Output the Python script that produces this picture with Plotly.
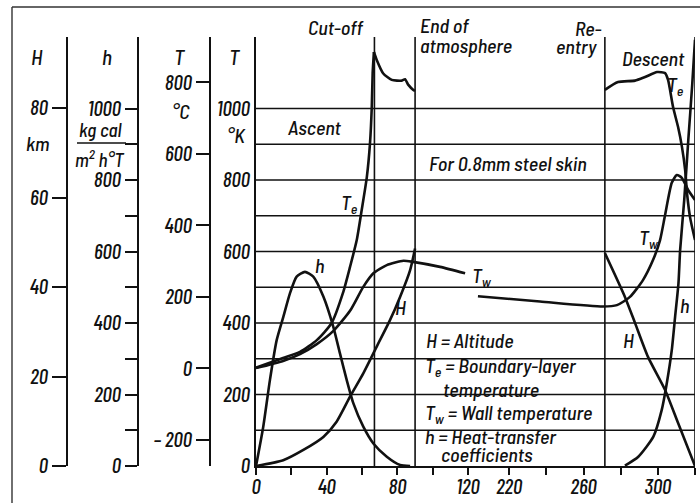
import plotly.graph_objects as go

# ---------------- data ----------------
cutoff_t = 67
end_atmosphere_t = 90
reentry_t = 271.5
descent_end_t = 320

te_asc_t = [0, 15.3, 24.9, 34.4, 42.8, 49.2, 53.2, 57.0, 59.8, 62.7, 64.5, 65.5, 66.0, 66.7]
te_asc_k = [275, 302, 319, 352, 400, 484, 557, 632, 716, 808, 903, 1004, 1099, 1158]
te_post_t = [66.7, 68.3, 72.0, 76.8, 82.5, 84.3, 86.2, 89.0, 90]
te_post_k = [1158, 1136, 1098, 1080, 1078, 1082, 1066, 1052, 1049]
te_desc_t = [271.5, 278.6, 287.7, 293.1, 299.6, 303.9, 305.5, 308.2, 310.9, 313.0, 314.7, 315.8, 317.4, 320]
te_desc_k = [1052, 1074, 1078, 1088, 1102, 1099, 1080, 1004, 948, 892, 828, 758, 694, 632]

tw_asc_t = [0, 15.3, 24.9, 34.4, 43.8, 53.2, 60.7, 66.4, 74.0, 83.4, 88.8, 104.1, 118.3]
tw_asc_k = [274, 294, 313, 341, 378, 434, 501, 539, 562, 574, 571, 557, 539]
tw_desc_t = [203.2, 236.6, 270.5, 278.0, 285.0, 292.0, 297.4, 301.2, 303.9, 307.5, 310.2, 312.9, 316.3, 320]
tw_desc_k = [475, 460, 446, 450, 473, 520, 576, 632, 702, 792, 814, 806, 772, 744]

h_asc_t = [0, 4.1, 7.9, 11.7, 15.5, 19.2, 23.0, 27.7, 32.4, 38.1, 43.7, 47.5, 51.3, 55.1, 60.7, 66.4, 74.0, 81.5, 87.2]
h_asc_v = [0, 110, 241, 352, 418, 483, 530, 543, 530, 474, 390, 315, 241, 175, 110, 63, 26, 3, 0]
h_desc_t = [282.3, 289.5, 297.6, 302.1, 304.8, 307.5, 309.3, 311.1, 312.0, 314.2, 316.4, 318.5, 320]
h_desc_v = [1, 26, 82, 157, 231, 324, 418, 511, 604, 744, 912, 1066, 1192]

alt_asc_t = [0, 15.4, 26.8, 38.1, 45.6, 53.2, 60.7, 68.3, 75.8, 81.5, 87.2, 90.0]
alt_asc_km = [0, 1.3, 3.6, 6.5, 9.9, 15.5, 20.7, 26.7, 32.6, 37.8, 43.8, 48.6]
alt_desc_t = [271.5, 282.3, 287.7, 294.7, 303.9, 310.9, 320]
alt_desc_km = [47.6, 37.8, 32.0, 24.4, 17.0, 9.6, 0]

x1_ticks = [0, 20, 40, 60, 80, 100, 120]
x1_text = ["0", "", "40", "", "80", "", "120"]
x2_ticks = [220, 240, 260, 280, 300, 320]
x2_text = ["220", "", "260", "", "300", ""]
k_ticks = [0, 200, 400, 600, 800, 1000]
grid_k = [100, 200, 300, 400, 500, 600, 700, 800, 900, 1000]
h_ticks = [0, 100, 200, 300, 400, 500, 600, 700, 800, 900, 1000]
h_text = ["0", "", "200", "", "400", "", "600", "", "800", "", "1000"]
c_ticks = [-200, 0, 200, 400, 600, 800]
c_text = ["\u2013 200", "0", "200", "400", "600", "800"]
km_ticks = [0, 20, 40, 60, 80]

W, H = 700, 503
L, R, T, B = 67, 695, 37, 466
PW, PH = R - L, B - T


def px(x):
    return (x - L) / PW


def py(y):
    return (B - y) / PH


X0 = px(256)
XB = px(472)

NUMFONT = "Barlow Condensed, Roboto Condensed, Archivo Narrow, DejaVu Sans Condensed, sans-serif"
TXTFONT = "Barlow Semi Condensed, Barlow Condensed, Roboto Condensed, DejaVu Sans Condensed, sans-serif"
INK = "#111111"
tickfont = dict(family=NUMFONT, size=21, color=INK, style="italic", weight=500)

fig = go.Figure()
line = dict(color=INK, width=2.6, shape="spline", smoothing=0.6)


def add(xs, ys, xa, ya):
    fig.add_trace(go.Scatter(x=xs, y=ys, xaxis=xa, yaxis=ya, mode="lines",
                             line=line, showlegend=False, hoverinfo="skip"))


add(te_asc_t, te_asc_k, "x", "y")
add(te_post_t, te_post_k, "x", "y")
add(te_desc_t, te_desc_k, "x2", "y")
add(tw_asc_t, tw_asc_k, "x", "y")
add(tw_desc_t, tw_desc_k, "x2", "y")
add(h_asc_t, h_asc_v, "x", "y2")
add(h_desc_t, h_desc_v, "x2", "y2")
add(alt_asc_t, alt_asc_km, "x", "y4")
add(alt_desc_t, alt_desc_km, "x2", "y4")
fig.add_trace(go.Scatter(x=[], y=[], xaxis="x", yaxis="y3", showlegend=False))

yax_common = dict(showgrid=False, zeroline=False, showline=True, linecolor=INK,
                  linewidth=2, tickfont=tickfont, tickcolor=INK, tickwidth=1.6,
                  automargin=False, tickmode="array")
xax_common = dict(anchor="y", showgrid=False, zeroline=False, showline=True,
                  linecolor=INK, linewidth=2, ticks="outside", ticklen=7,
                  tickwidth=1.6, tickcolor=INK, tickmode="array", tickfont=tickfont,
                  automargin=False, ticklabelstandoff=-6)

fig.update_layout(
    width=W, height=H, autosize=False,
    margin=dict(l=L, r=W - R, t=T, b=H - B),
    paper_bgcolor="white", plot_bgcolor="white",
    xaxis=dict(domain=[X0, XB], range=[0, 122.2], tickvals=x1_ticks,
               ticktext=x1_text, **xax_common),
    xaxis2=dict(domain=[XB, 1], range=[200, 320], tickvals=x2_ticks,
                ticktext=x2_text, **xax_common),
    yaxis=dict(domain=[0, 1], range=[0, 1200], anchor="x", ticks="",
               tickvals=k_ticks, **yax_common),
    yaxis2=dict(range=[0, 1200], overlaying="y", anchor="free", position=px(138),
                side="left", ticks="outside", ticklen=12, tickvals=h_ticks,
                ticktext=h_text, **yax_common),
    yaxis3=dict(range=[-273, 927], overlaying="y", anchor="free", position=px(210),
                side="left", ticks="outside", ticklen=13, tickvals=c_ticks,
                ticktext=c_text, **yax_common),
    yaxis4=dict(range=[0, 95.9], overlaying="y", anchor="free", position=0,
                side="left", ticks="outside", ticklen=14, tickvals=km_ticks,
                **yax_common),
)

shapes = []
for g in grid_k:
    shapes.append(dict(type="line", xref="paper", x0=X0, x1=1, yref="y", y0=g, y1=g,
                       line=dict(color=INK, width=1.4), layer="below"))
for t in [cutoff_t, end_atmosphere_t]:
    shapes.append(dict(type="line", xref="x", x0=t, x1=t, yref="paper", y0=0, y1=1,
                       line=dict(color=INK, width=1.6)))
for t in [reentry_t, descent_end_t]:
    shapes.append(dict(type="line", xref="x2", x0=t, x1=t, yref="paper", y0=0, y1=1,
                       line=dict(color=INK, width=1.6)))
shapes.append(dict(type="line", xref="paper", yref="paper", x0=px(12), x1=px(12),
                   y0=py(7), y1=py(503), line=dict(color="#333", width=1.4)))
shapes.append(dict(type="line", xref="paper", yref="paper", x0=px(12), x1=px(700),
                   y0=py(7), y1=py(7), line=dict(color="#333", width=1.4)))
shapes.append(dict(type="line", xref="paper", yref="paper", x0=px(77), x1=px(126),
                   y0=py(143), y1=py(143), line=dict(color=INK, width=1.6)))
fig.update_layout(shapes=shapes)


def note(text, x, y, anchor="center", size=20, family=TXTFONT):
    fig.add_annotation(text=text, x=px(x), y=py(y), xref="paper", yref="paper",
                       xanchor=anchor, yanchor="middle", showarrow=False,
                       font=dict(family=family, size=size, color=INK, style="italic",
                                 weight=500))


note("H", 37, 57, size=21)
note("km", 37, 143)
note("h", 107, 57, size=21)
note("kg cal", 101, 129, size=19)
note("m<sup>2</sup> h°T", 99, 158, size=19)
note("T", 180, 57, size=21)
note("°C", 181, 111)
note("T", 235, 57, size=21)
note("°K", 236, 135)
note("Cut-off", 366, 27, anchor="right")
note("End of", 418, 25, anchor="left")
note("atmosphere", 418, 45, anchor="left")
note("Re-", 604, 28, anchor="right")
note("entry", 599, 46, anchor="right")
note("Descent", 620, 58, anchor="left")
note("Ascent", 286, 127, anchor="left")
note("For 0.8mm steel skin", 427, 163, anchor="left")
note("T<sub>e</sub>", 349, 203)
note("T<sub>e</sub>", 675, 85)
note("h", 319, 265)
note("T<sub>w</sub>", 470, 276, anchor="left")
note("H", 400, 307)
note("T<sub>w</sub>", 649, 238)
note("H", 628, 340)
note("h", 684, 305)
note("H = Altitude", 424, 340, anchor="left")
note("T<sub>e</sub> = Boundary-layer", 423, 366, anchor="left")
note("temperature", 441, 389, anchor="left")
note("T<sub>w</sub> = Wall temperature", 423, 413, anchor="left")
note("h = Heat-transfer", 423, 436, anchor="left")
note("coefficients", 439, 454, anchor="left")

fig.write_html("out.html", config={"displayModeBar": False},
               post_script="document.body.style.margin='0';")
